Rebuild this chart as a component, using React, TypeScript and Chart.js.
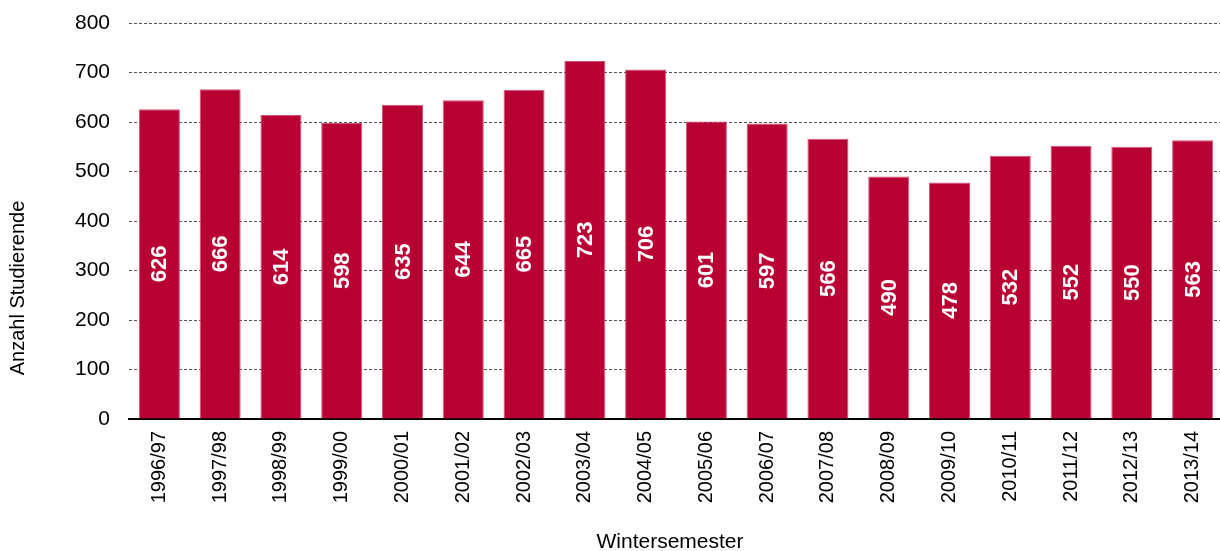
import React, { useEffect, useRef } from "react";
import { Chart, registerables } from "chart.js";

Chart.register(...registerables);

const semesters = [
  "1996/97", "1997/98", "1998/99", "1999/00", "2000/01", "2001/02",
  "2002/03", "2003/04", "2004/05", "2005/06", "2006/07", "2007/08",
  "2008/09", "2009/10", "2010/11", "2011/12", "2012/13", "2013/14",
];
const students = [626, 666, 614, 598, 635, 644, 665, 723, 706, 601, 597, 566, 490, 478, 532, 552, 550, 563];
const yTitle = "Anzahl Studierende";
const xTitle = "Wintersemester";
const FONT = "'Liberation Sans', Arial, sans-serif";

const labelPlugin = {
  id: "barLabels",
  afterDatasetsDraw(chart: any) {
    const ctx = chart.ctx;
    const meta = chart.getDatasetMeta(0);
    ctx.save();
    ctx.fillStyle = "#ffffff";
    ctx.font = `bold 22px ${FONT}`;
    ctx.textAlign = "center";
    ctx.textBaseline = "middle";
    meta.data.forEach((bar: any, i: number) => {
      const v = chart.data.datasets[0].data[i];
      const yMid = (bar.y + bar.base) / 2;
      ctx.save();
      ctx.translate(bar.x, yMid);
      ctx.rotate(-Math.PI / 2);
      ctx.fillText(String(v), 0, 1);
      ctx.restore();
    });
    ctx.restore();
  },
  afterDraw(chart: any) {
    const ctx = chart.ctx;
    ctx.save();
    ctx.fillStyle = "#000000";
    ctx.textAlign = "center";
    ctx.textBaseline = "middle";
    ctx.font = `20px ${FONT}`;
    ctx.save();
    ctx.translate(18, 288);
    ctx.rotate(-Math.PI / 2);
    ctx.fillText(yTitle, 0, 0);
    ctx.restore();
    ctx.font = `21px ${FONT}`;
    ctx.fillText(xTitle, 670, 542);
    ctx.restore();
  },
};

export default function App() {
  const ref = useRef<HTMLCanvasElement>(null);
  useEffect(() => {
    document.body.style.margin = "0";
    const chart = new Chart(ref.current!, {
      type: "bar",
      data: {
        labels: semesters,
        datasets: [
          {
            data: students,
            backgroundColor: "#B90032",
            borderColor: "#cf5576",
            borderWidth: 1,
            categoryPercentage: 0.675,
            barPercentage: 1,
          },
        ],
      },
      options: {
        animation: false,
        responsive: false,
        maintainAspectRatio: false,
        layout: { padding: { top: 23, right: 0, left: 0, bottom: 0 } },
        plugins: { legend: { display: false }, tooltip: { enabled: false } },
        scales: {
          x: {
            grid: { display: false, drawTicks: false },
            border: { display: true, color: "#000000", width: 2 },
            ticks: {
              color: "#000000",
              font: { family: FONT, size: 20 },
              minRotation: 90,
              maxRotation: 90,
              padding: 12,
              autoSkip: false,
            },
            afterFit(scale: any) {
              scale.height = 132;
              scale.paddingLeft = 0;
              scale.paddingRight = 0;
            },
          },
          y: {
            min: 0,
            max: 800,
            grid: { color: "#555555", lineWidth: 1, drawTicks: false },
            border: { display: false, dash: [3, 2] },
            ticks: {
              stepSize: 100,
              color: "#000000",
              font: { family: FONT, size: 21 },
              padding: 19,
            },
            afterFit(scale: any) {
              scale.width = 129;
              scale.paddingTop = 0;
              scale.paddingBottom = 0;
            },
          },
        },
      },
      plugins: [labelPlugin],
    });
    return () => chart.destroy();
  }, []);
  return (
    <div style={{ position: "absolute", left: 0, top: 0, width: 1220, height: 551, overflow: "hidden" }}>
      <canvas ref={ref} width={1223} height={551} style={{ display: "block" }} />
    </div>
  );
}
